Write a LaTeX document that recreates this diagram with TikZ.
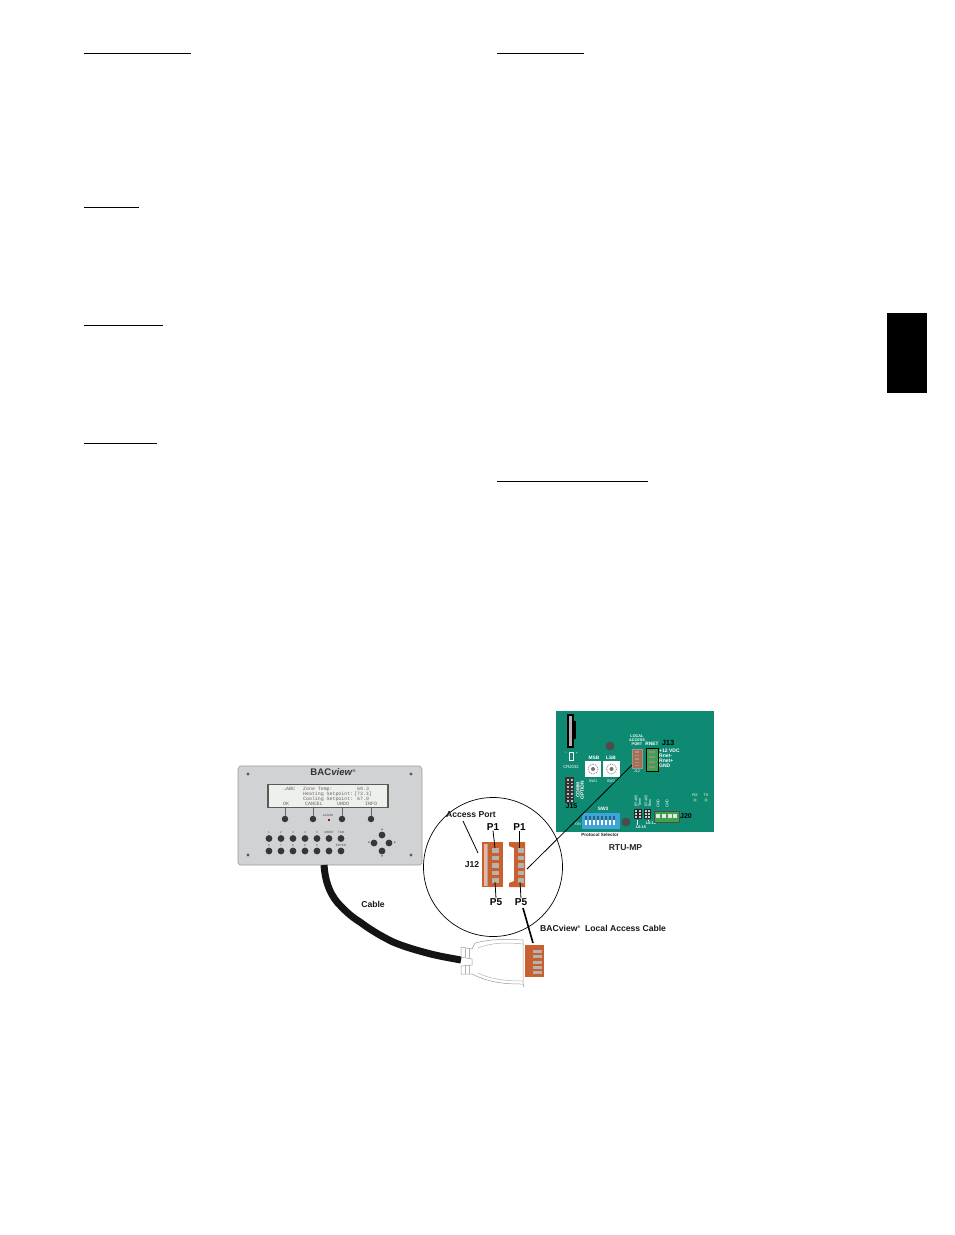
\documentclass[tikz,border=0pt]{standalone}
\usepackage{fontspec}
\setmainfont{Liberation Sans}
\setmonofont{Liberation Mono}
\definecolor{pcb}{HTML}{0E8A72}
\definecolor{conn}{HTML}{C9602F}
\definecolor{panel}{HTML}{D0D2D4}
\definecolor{panelrim}{HTML}{9A9DA0}
\definecolor{lcd}{HTML}{EEF0EB}
\definecolor{key}{HTML}{33383A}
\definecolor{dip}{HTML}{3FA4D8}
\definecolor{termg}{HTML}{3FA34D}
\definecolor{pingrey}{HTML}{B8B4AC}
\tikzset{
  rulehead/.style={line width=1pt,black},
  keybtn/.style={circle,fill=key,inner sep=0pt,minimum size=6.8pt},
  keylbl/.style={font=\fontsize{3}{3}\selectfont,text=black!70,inner sep=0pt},
  lbl/.style={font=\bfseries\fontsize{8.6}{8.6}\selectfont,inner sep=0pt,text=black!90},
  lblbig/.style={font=\bfseries\fontsize{10}{10}\selectfont,inner sep=0pt},
  tiny/.style={font=\fontsize{3.8}{3.8}\selectfont,text=white,inner sep=0pt},
  tinyb/.style={font=\bfseries\fontsize{4.8}{4.8}\selectfont,inner sep=0pt},
  j13txt/.style={anchor=west,font=\bfseries\fontsize{5}{5}\selectfont,text=white,inner sep=0pt},
  lead/.style={black,line width=0.8pt},
  pin/.style={fill=pingrey,draw=black!30,line width=0.2pt},
  lcdtxt/.style={font=\ttfamily\fontsize{4.9}{4.9}\selectfont,text=black!60,inner sep=0pt,anchor=west},
}
\begin{document}
\begin{tikzpicture}[x=1pt,y=-1pt]
\useasboundingbox (0,0) rectangle (954,1235);
\fill[white] (0,0) rectangle (954,1235);
% heading rules
\draw[rulehead] (84,53) -- (191,53);
\draw[rulehead] (497,53) -- (584,53);
\draw[rulehead] (84,207) -- (139,207);
\draw[rulehead] (84,325) -- (163,325);
\draw[rulehead] (84,443) -- (157,443);
\draw[rulehead] (497,481) -- (648,481);
\fill[black] (887,313) rectangle (927,393);
% panel
\fill[panel,draw=panelrim,line width=0.6pt] (240,766) -- (420,766) -- (422,769) -- (422,863) -- (420,865) -- (240,865) -- (238,863) -- (238,769) -- cycle;
\foreach \p in {(248,774),(411,774),(248,855),(411,855)} \fill[black!65] \p circle (1.6);
\node[font=\bfseries\fontsize{9.6}{9.6}\selectfont,text=black!80,inner sep=0pt] (title) at (333,772) {BAC\textit{view}\raisebox{3pt}{\fontsize{4}{4}\selectfont\textregistered}};
\fill[lcd,draw=black!65,line width=1.2pt] (268,784.5) rectangle (388,807.5);
\node[lcdtxt] at (283,789) {→ABC};
\node[lcdtxt] at (303,789) {Zone Temp:};
\node[lcdtxt] at (357,789) {69.3};
\node[lcdtxt] at (303,794) {Heating Setpoint:};
\node[lcdtxt] at (354,794) {[73.3]};
\node[lcdtxt] at (303,799) {Cooling Setpoint:};
\node[lcdtxt] at (357,799) {67.0};
\node[lcdtxt] at (283,804) {OK};
\node[lcdtxt] at (305,804) {CANCEL};
\node[lcdtxt] at (337,804) {UNDO};
\node[lcdtxt] at (365,804) {INFO};
\foreach \x/\n in {285/a,313/b,342/c,371/d} \node[keybtn,minimum size=6.5pt] (s\n) at (\x,819) {};
\draw[black!60,line width=0.5pt] (285,808)--(sa) (313,808)--(sb) (342,808)--(sc) (371,808)--(sd);
\node[keylbl] at (328,815) {ALARM};
\fill[red!70!black] (327.5,819) rectangle (329.5,821);
\foreach \x/\t in {269/1,281/2,293/3,305/4,317/5,329/MODE,341/TAB}{
  \node[keybtn] at (\x,838.5) {};
  \node[keylbl] at (\x,832.5) {\t};
}
\foreach \x/\t in {269/6,281/7,293/8,305/9,317/0,329/.,341/ENTER}{
  \node[keybtn] at (\x,851) {};
  \node[keylbl] at (\x,845.5) {\t};
}
\node[keybtn] (up) at (382,835) {};
\node[keybtn] (dn) at (382,851) {};
\node[keybtn] (lf) at (374,843) {};
\node[keybtn] (rt) at (389,843) {};
\node[keylbl] at (382,830) {▲};
\node[keylbl] at (382,856.5) {▼};
\node[keylbl] at (368.5,843) {◄};
\node[keylbl] at (395,843) {►};
% cable
\coordinate (cabA) at (324,865);
\coordinate (cabB) at (461,960);
\draw[black!92,line width=7pt] (cabA) .. controls (325,880) and (329,892) .. (337,902) .. controls (346,912) and (352,917) .. (360,922) .. controls (372,931) and (383,937) .. (393,942) .. controls (405,947) and (416,950) .. (427,953) .. controls (438,956) and (450,958) .. (cabB);
% cable hood
\fill[white,draw=black!40,line width=0.5pt] (523,940) .. controls (505,939) and (490,939) .. (475,943) -- (472,949) -- (461,947) -- (461,957) -- (472,959) -- (472,965) -- (461,966) -- (461,974) -- (472,974) .. controls (490,983) and (505,984) .. (523,984) -- cycle;
\draw[black!30,line width=0.5pt] (523,944) .. controls (505,942) and (490,943) .. (478,948) (523,981) .. controls (505,981) and (490,979) .. (478,973);
\draw[black!30,line width=0.5pt] (465,948) -- (465,957) (469,949) -- (469,958) (465,966) -- (465,974) (469,965) -- (469,974);
\draw[black!30,line width=0.5pt] (523,984) -- (523,987);
\fill[conn] (525,945) rectangle (544,977);
\foreach \y in {951,956.5,962,967,972} \fill[pin] (533,\y-1) rectangle (541,\y+1);
\coordinate (cc) at (533,943);
% board
\fill[pcb] (556,711) rectangle (714,832);
\fill[black] (567,714) rectangle (574,748);
\fill[black] (574,721) rectangle (576,739);
\fill[black!30] (569,716) rectangle (572,746);
\node[tiny] at (566,753) {--};
\node[tiny] at (577,753) {+};
\draw[white,line width=0.4pt] (569,752) -- (573,752) -- (573,760) -- (569,760) -- cycle;
\node[tiny,font=\fontsize{4.2}{4.2}\selectfont] at (571,767) {CR2032};
\fill[black!70] (610,746) circle (4.5);
\node[tinyb,text=white] at (594,757.5) {MSB};
\node[tinyb,text=white] at (611,757.5) {LSB};
\fill[white] (585,761) rectangle (601,777);
\fill[white] (603,761) rectangle (620,777);
\draw[black!50,densely dotted,line width=0.8pt] (593,769) circle (5);
\draw[black!50,densely dotted,line width=0.8pt] (611.5,769) circle (5);
\fill[black!55] (593,769) circle (2);
\fill[black!55] (611.5,769) circle (2);
\node[tiny] at (593,781) {SW1};
\node[tiny] at (611,781) {SW2};
% J15
\fill[black!80] (565,777) rectangle (574,803);
\foreach \y in {780,783.5,787,790.5,794,797.5,801}{\fill[black!25] (566.5,\y-.7) rectangle (568.5,\y+.7);\fill[black!25] (570.5,\y-.7) rectangle (572.5,\y+.7);}
\node[tinyb,text=white,rotate=90,align=center] at (580,790) {COMM\\[-0.5pt]OPTION};
\node[font=\bfseries\fontsize{7}{7}\selectfont,text=black,inner sep=0pt] at (571.5,806.5) {J15};
% J12 on board
\node[tiny,align=center,font=\bfseries\fontsize{3.8}{4.2}\selectfont] at (637,740) {LOCAL\\ACCESS\\PORT};
\fill[conn!65!gray,draw=black!40,line width=0.3pt] (632,749) rectangle (642,768);
\foreach \y in {752,755.5,759,762.5,765.5} \fill[black!40] (635,\y-.6) rectangle (639,\y+.6);
\coordinate (j12b) at (632,765);
\node[tiny] at (637,771) {J12};
% J13
\fill[termg,draw=black,line width=0.4pt] (646,748) rectangle (658,771);
\foreach \y in {752,757,762,767}{\fill[black!45] (649,\y-1.2) rectangle (655,\y+1.2);}
\node[tinyb,text=white] at (652,744) {RNET};
\node[font=\bfseries\fontsize{7.5}{7.5}\selectfont,text=black,inner sep=0pt] at (668,742.5) {J13};
\node[j13txt] at (659,751) {+12 VDC};
\node[j13txt] at (659,755.5) {Rnet-};
\node[j13txt] at (659,760.5) {Rnet+};
\node[j13txt] at (659,766) {GND};
% SW3
\node[tinyb,text=white] at (603,809) {SW3};
\fill[dip] (582,813) rectangle (620,829);
\foreach \x in {586,590,594,598,602,606,610,614}{\fill[white] (\x-1,816) rectangle (\x+1,825);\fill[dip!60!black] (\x-1,816) rectangle (\x+1,820);}
\node[tiny] at (578,824) {ON};
\fill[black!70] (626,822) circle (4.5);
\node[font=\bfseries\fontsize{4.5}{4.5}\selectfont,text=black!85,inner sep=0pt] at (600,834.5) {Protocol Selector};
% jumpers
\fill[black!85] (634,809) rectangle (642,819);
\fill[black!85] (644,809) rectangle (651,819);
\foreach \x in {636,640,646,649}\foreach \y in {811,814,817}\fill[white!80!black] (\x-.6,\y-.6) rectangle (\x+.6,\y+.6);
\node[tiny,rotate=90,anchor=west,align=left] at (638,807) {BT485\\Term};
\node[tiny,rotate=90,anchor=west,align=left] at (648,807) {BT485\\Bias};
\node[tiny,font=\bfseries\fontsize{3.8}{3.8}\selectfont] at (641,827.5) {L6-15};
\node[tiny,font=\bfseries\fontsize{3.8}{3.8}\selectfont] at (651,823) {L6-10};
\draw[white,line width=0.4pt] (637,820) -- (637,825) (648,820) -- (648,821);
% J20
\fill[termg,draw=black!70,line width=0.5pt] (654,811) rectangle (679,822);
\foreach \x in {658,664,670,675}\fill[white!80!gray] (\x-1.6,814) rectangle (\x+1.6,818);
\node[tiny,rotate=90,anchor=west] at (658,808) {GND};
\node[tiny,rotate=90,anchor=west] at (667,808) {GND};
\node[font=\bfseries\fontsize{7}{7}\selectfont,text=black,inner sep=0pt] at (686,816) {J20};
% RX TX
\node[tiny] at (695,795) {RX};
\node[tiny] at (706,795) {TX};
\fill[termg!80!white] (695,800) circle (1.8);
\fill[termg!80!white] (706,800) circle (1.8);
\node[font=\bfseries\fontsize{8.6}{8.6}\selectfont,text=black!85,inner sep=0pt] at (625.5,848) {RTU-MP};
% magnifier
\draw[black,line width=0.7pt] (493,867) circle (69.5);
% left connector
\fill[conn] (482,842) rectangle (503,887);
\fill[conn!45!white] (483.5,843.5) rectangle (487,885.5);
\fill[black!35] (487,843.5) rectangle (488,885.5);
\foreach \y in {850,857.5,865,872.5,880} \fill[pin] (492.5,\y-1.8) rectangle (498,\y+1.8);
% right connector
\fill[conn] (509,842) -- (525,842) -- (525,887) -- (509,887) -- (509,883) -- (514,881) -- (514,848) -- (509,846) -- cycle;
\foreach \y in {850,857.5,865,872.5,880} \fill[pin] (518,\y-1.8) rectangle (523,\y+1.8);
% labels
\node[lbl] (ap) at (471,814.5) {Access Port};
\coordinate (apt) at (478,853);
\node[lbl] (j12) at (472,865) {J12};
\node[lblbig] (lp1) at (493,827) {P1};
\node[lblbig] (rp1) at (519.5,827) {P1};
\node[lblbig] (lp5) at (496,902) {P5};
\node[lblbig] (rp5) at (521,902) {P5};
\coordinate (lpin1) at (495,848);
\coordinate (lpin5) at (495,882);
\coordinate (rpin1) at (519.5,848);
\coordinate (rpin5) at (520,882);
\coordinate (rport) at (527,869);
\coordinate (aps) at (463,821);
\coordinate (rp5s) at (523,908);
\draw[lead] (lp1.south) -- (lpin1);
\draw[lead] (rp1.south) -- (rpin1);
\draw[lead] (lp5.north) -- (lpin5);
\draw[lead] (rp5.north) -- (rpin5);
\draw[lead] (aps) -- (apt);
\draw[lead] (rport) -- (j12b);
\draw[black,line width=1.6pt] (rp5s) -- (cc);
\node[lbl,anchor=west] at (540,928) {BACview\raisebox{3pt}{\fontsize{4}{4}\selectfont\textregistered}\ \ Local Access Cable};
\node[lbl] at (373,904) {Cable};
\end{tikzpicture}
\end{document}
